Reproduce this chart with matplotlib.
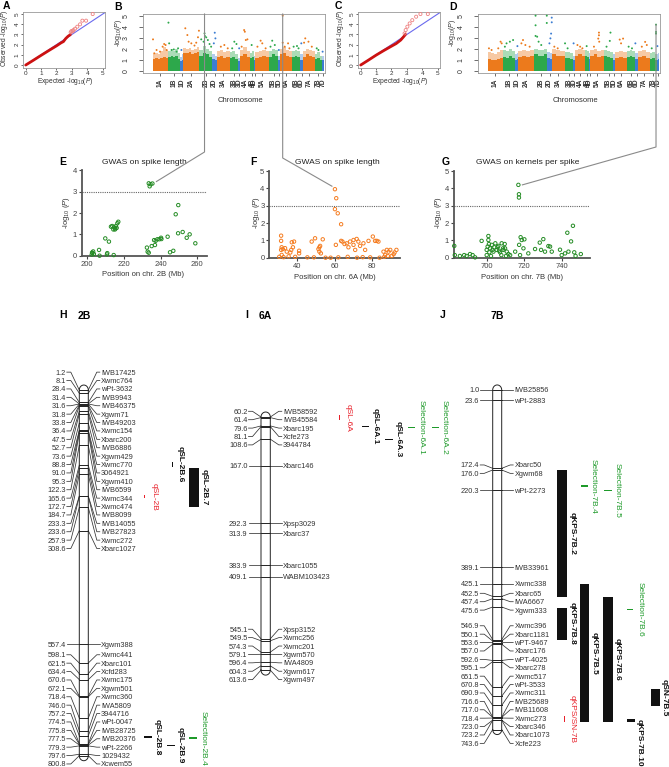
import numpy as np
import matplotlib
matplotlib.use('Agg')
import matplotlib.pyplot as plt
from matplotlib.patches import Rectangle

plt.rcParams['font.family'] = ['Liberation Sans', 'DejaVu Sans']
plt.rcParams['mathtext.fontset'] = 'custom'
plt.rcParams['mathtext.rm'] = 'Liberation Sans'
plt.rcParams['mathtext.it'] = 'Liberation Sans:italic'
plt.rcParams['mathtext.bf'] = 'Liberation Sans:bold'

# ====================== DATA ======================
chromosomes = ['1A', '1B', '1D', '2A', '2B', '2D', '3A', '3B', '3D', '4A', '4B', '4D',
               '5A', '5B', '5D', '6A', '6B', '6D', '7A', '7B', '7D']
chrom_sizes = [470, 360, 100, 480, 400, 140, 380, 260, 60, 300, 120, 40,
               420, 260, 80, 340, 260, 80, 360, 220, 60]

# dense bulk of markers (top of the solid band) and top of the sparser fringe above it
core_B = [[1.1, 1.2, 1.1, 1.2, 1.3, 1.2], [1.3, 1.4, 1.3, 1.4, 1.1], [0.9, 1.0],
          [1.6, 1.6, 1.7, 1.5, 1.6, 1.7], [1.4, 1.6, 1.5, 1.3], [1.1, 1.0],
          [1.3, 1.4, 1.2, 1.3], [1.2, 1.3, 1.1], [0.9], [1.4, 1.5, 1.3], [1.2, 1.3], [1.0],
          [1.2, 1.3, 1.4, 1.3], [1.3, 1.5, 1.4], [1.0], [1.5, 1.6, 1.4, 1.3], [1.3, 1.4, 1.3], [1.0],
          [1.3, 1.5, 1.4, 1.3], [1.1, 1.2, 1.0], [1.0]]
fringe_B = [[1.5, 1.6, 1.5, 1.8, 2.2, 1.9], [1.8, 2.0, 1.8, 2.0, 1.6], [1.3, 1.5],
            [2.1, 2.0, 2.1, 1.9, 2.0, 2.2], [1.9, 2.3, 2.0, 1.8], [1.5, 1.4],
            [1.8, 1.9, 1.7, 1.8], [1.7, 1.8, 1.5], [1.2], [1.9, 2.2, 1.8], [1.6, 1.8], [1.4],
            [1.7, 1.8, 1.9, 1.8], [1.8, 2.0, 1.9], [1.4], [2.0, 2.2, 1.9, 1.8], [1.8, 1.9, 1.8], [1.5],
            [1.8, 2.0, 1.9, 1.8], [1.5, 1.7, 1.4], [1.4]]
core_D = [[1.1, 1.0, 1.0, 1.1, 1.2], [1.3, 1.2, 1.4, 1.2], [1.0, 1.1],
          [1.3, 1.4, 1.3, 1.4], [1.5, 1.4, 1.4, 1.5], [1.2, 1.1],
          [1.5, 1.4, 1.4], [1.2, 1.2, 1.1], [1.0], [1.4, 1.5, 1.4], [1.4, 1.3], [1.1],
          [1.4, 1.5, 1.3, 1.4], [1.4, 1.3, 1.2], [1.0], [1.2, 1.3, 1.2], [1.3, 1.4, 1.3], [1.1],
          [1.3, 1.4, 1.2], [1.1, 1.2, 1.0], [1.0, 1.1]]
fringe_D = [[1.7, 1.6, 1.5, 1.7, 1.9], [1.9, 1.8, 2.0, 1.8], [1.5, 1.6],
            [1.8, 1.9, 1.8, 1.9], [2.0, 1.9, 1.9, 2.0], [1.7, 1.6],
            [2.0, 1.9, 1.8], [1.7, 1.7, 1.6], [1.4], [1.9, 2.0, 1.9], [1.9, 1.8], [1.6],
            [1.9, 2.0, 1.8, 1.9], [1.9, 1.8, 1.7], [1.5], [1.7, 1.8, 1.7], [1.8, 1.9, 1.8], [1.6],
            [1.8, 1.9, 1.7], [1.6, 1.7, 1.5], [1.5, 1.6]]

# markers standing out of the band: (chromosome, relative position, -log10 P)
hits_B = [('1A', 0.02, 2.86), ('1A', 0.1, 1.6), ('1A', 0.25, 1.9), ('1A', 0.47, 1.75), ('1A', 0.64, 2.2),
          ('1A', 0.74, 2.44), ('1A', 0.83, 2.35), ('1A', 0.9, 1.9),
          ('1B', 0.02, 4.37), ('1B', 0.08, 2.5), ('1B', 0.28, 1.9), ('1B', 0.47, 1.95), ('1B', 0.7, 1.75),
          ('1B', 0.83, 2.05), ('1D', 0.4, 1.9),
          ('2A', 0.12, 3.86), ('2A', 0.25, 3.25), ('2A', 0.33, 2.65), ('2A', 0.5, 2.5), ('2A', 0.7, 2.3),
          ('2A', 0.81, 2.56), ('2A', 0.92, 3.05), ('2A', 0.98, 3.64),
          ('2B', 0.15, 2.86), ('2B', 0.33, 2.65), ('2B', 0.4, 3.4), ('2B', 0.43, 3.16), ('2B', 0.53, 3.04),
          ('2B', 0.65, 2.8), ('2B', 0.78, 2.44), ('2B', 0.9, 2.2),
          ('2D', 0.5, 3.46), ('2D', 0.64, 2.95), ('2D', 0.3, 2.5),
          ('3A', 0.3, 2.2), ('3A', 0.58, 2.35), ('3A', 0.85, 2.05),
          ('3B', 0.55, 2.65), ('3B', 0.8, 2.44), ('3B', 0.3, 2.05), ('3D', 0.5, 2.05),
          ('4A', 0.15, 2.2), ('4A', 0.4, 3.7), ('4A', 0.47, 3.55), ('4A', 0.57, 2.8), ('4A', 0.73, 2.86),
          ('4B', 0.4, 2.35),
          ('5A', 0.15, 2.2), ('5A', 0.38, 2.74), ('5A', 0.5, 2.5), ('5A', 0.74, 2.05),
          ('5B', 0.15, 2.2), ('5B', 0.35, 2.74), ('5B', 0.65, 2.35), ('5D', 0.4, 1.9),
          ('6A', 0.2, 5.0), ('6A', 0.2, 2.56), ('6A', 0.38, 2.2), ('6A', 0.68, 2.5), ('6A', 0.8, 2.05),
          ('6B', 0.23, 2.2), ('6B', 0.62, 2.26), ('6B', 0.8, 2.05), ('6D', 0.4, 2.5),
          ('7A', 0.1, 2.56), ('7A', 0.2, 2.95), ('7A', 0.47, 2.65), ('7A', 0.75, 2.2),
          ('7B', 0.27, 2.05), ('7B', 0.5, 1.9), ('7D', 0.3, 1.75)]
hits_D = [('1A', 0.08, 2.05), ('1A', 0.25, 1.9), ('1A', 0.68, 2.05), ('1A', 0.83, 2.65), ('1A', 0.9, 2.5),
          ('1B', 0.14, 2.2), ('1B', 0.28, 2.5), ('1B', 0.56, 2.65), ('1B', 0.83, 2.8), ('1D', 0.7, 2.25),
          ('2A', 0.19, 2.5), ('2A', 0.29, 2.8), ('2A', 0.44, 2.35), ('2A', 0.71, 2.2),
          ('2B', 0.1, 5.0), ('2B', 0.1, 4.13), ('2B', 0.1, 3.17), ('2B', 0.22, 3.1), ('2B', 0.33, 2.65),
          ('2B', 0.53, 2.35), ('2B', 0.95, 5.0), ('2B', 0.95, 4.34),
          ('2D', 0.93, 4.82), ('2D', 0.93, 4.4), ('2D', 0.79, 3.38), ('2D', 0.64, 2.95), ('2D', 0.43, 2.5),
          ('3A', 0.18, 2.2), ('3A', 0.45, 2.05), ('3B', 0.05, 2.5), ('3B', 0.35, 2.05), ('3D', 0.2, 2.5),
          ('4A', 0.23, 2.35), ('4A', 0.5, 2.2), ('4A', 0.73, 2.05), ('4B', 0.4, 2.25),
          ('5A', 0.26, 2.2), ('5A', 0.62, 3.47), ('5A', 0.62, 3.23), ('5A', 0.57, 2.93), ('5A', 0.64, 2.65),
          ('5B', 0.73, 3.47), ('5B', 0.65, 2.72), ('5B', 0.27, 2.2),
          ('6A', 0.38, 2.84), ('6A', 0.68, 2.93), ('6A', 0.5, 2.5), ('6B', 0.23, 2.2), ('6B', 0.62, 2.05),
          ('6D', 0.05, 2.5), ('7A', 0.33, 2.2), ('7A', 0.61, 2.63), ('7A', 0.75, 2.35),
          ('7B', 0.86, 4.19), ('7B', 0.86, 3.53), ('7B', 0.86, 3.38), ('7B', 0.27, 2.05), ('7D', 0.2, 2.25)]

# QQ plots (expected vs observed -log10 P)
qqA_expected = [0.0, 0.5, 1.0, 1.5, 2.0, 2.3, 2.45, 2.6, 2.75, 2.9]
qqA_observed = [0.0, 0.47, 0.95, 1.42, 1.88, 2.18, 2.3, 2.6, 2.82, 2.98]
qqA_tail_expected = [2.92, 2.97, 3.05, 3.1, 3.2, 3.35, 3.53, 3.68, 3.92, 4.35]
qqA_tail_observed = [3.2, 3.33, 3.3, 3.43, 3.56, 3.76, 3.99, 4.35, 4.35, 5.0]
qqC_expected = [0.0, 0.5, 1.0, 1.5, 2.0, 2.3, 2.6, 2.8, 2.9]
qqC_observed = [0.0, 0.48, 0.97, 1.42, 1.85, 2.1, 2.45, 2.8, 3.0]
qqC_tail_expected = [2.85, 2.92, 3.03, 3.18, 3.35, 3.6, 3.88, 4.36]
qqC_tail_observed = [3.1, 3.43, 3.76, 4.08, 4.4, 4.74, 5.0, 5.0]

# Regional GWAS plots
E_pos = [233.5, 234.5, 234.0, 235.5, 202.4, 202.8, 203.2, 203.6, 202.6, 206.4, 206.7, 209.8, 210.7,
         210.9, 211.8, 214.4, 212.9, 213.6, 214.7, 215.1, 215.6, 216.4, 216.9, 216.0, 214.2, 215.3,
         232.5, 232.9, 233.5, 235.1, 236.4, 236.9, 237.3, 238.2, 239.3, 240.2, 240.4, 243.8, 245.1,
         246.9, 248.2, 249.6, 249.5, 252.0, 254.2, 255.8, 258.9]
E_val = [3.39, 3.35, 3.25, 3.38, 0.05, 0.12, 0.2, 0.08, 0.15, 0.27, 0.0, 0.81, 0.06,
         0.12, 0.66, 0.03, 1.36, 1.39, 1.33, 1.23, 1.39, 1.52, 1.59, 1.30, 1.23, 1.28,
         0.38, 0.19, 0.14, 0.45, 0.73, 0.5, 0.7, 0.77, 0.77, 0.84, 0.78, 0.89, 0.16,
         0.23, 1.94, 2.37, 1.05, 1.11, 0.84, 1.0, 0.58]
F_pos = [60.2, 60.9, 60.2, 61.7, 63.5,
         31.5, 31.5, 31.8, 31.5, 32.4, 33.6, 34.5, 31.8, 30.5, 32.8, 35.5, 36.9, 37.2, 38.4, 36.4, 37.8,
         41.1, 41.1, 47.8, 49.6, 53.7, 51.4, 51.9, 52.3, 52.7, 51.9, 45.5, 49.0, 55.2, 57.9, 39.0,
         60.7, 63.5, 64.2, 65.3, 66.5, 67.4, 68.3, 70.1, 71.8, 70.1, 72.7, 71.0, 73.6, 75.4, 76.3,
         78.1, 80.4, 81.6, 82.5, 83.4, 86.1, 87.9, 88.8, 89.7, 87.0, 88.4, 62.0, 67.0, 72.0, 75.0,
         79.0, 84.0, 86.5, 90.5, 92.0, 93.0, 91.5]
F_val = [3.95, 3.43, 2.8, 2.56, 1.93,
         1.27, 0.97, 0.6, 0.45, 0.5, 0.55, 0.35, 0.16, 0.05, 0.03, 0.08, 0.45, 0.89, 0.93, 0.3, 0.6,
         0.4, 0.25, 0.93, 1.12, 1.06, 0.5, 0.35, 0.68, 0.25, 0.6, 0.02, 0.02, 0.0, 0.0, 0.05,
         0.74, 0.97, 0.93, 0.79, 0.83, 0.6, 0.93, 1.02, 1.08, 0.74, 0.93, 0.45, 0.68, 0.83, 0.45,
         0.97, 1.22, 0.97, 0.97, 0.93, 0.35, 0.45, 0.35, 0.45, 0.16, 0.1, 0.02, 0.05, 0.0, 0.03,
         0.02, 0.0, 0.05, 0.1, 0.3, 0.45, 0.2]
G_pos = [716.9, 717.2, 717.2, 682.7, 683.0, 685.7, 688.0, 689.3, 691.1, 692.5, 693.8, 697.3, 700.0,
         700.5, 700.9, 700.9, 701.2, 701.8, 702.7, 703.6, 704.1, 705.3, 706.2, 707.1, 708.0, 708.9,
         709.8, 710.7, 711.6, 712.5, 715.2, 717.3, 718.1, 718.7, 720.1, 719.6, 717.8, 722.2, 725.8,
         728.3, 729.0, 730.2, 731.1, 732.9, 733.8, 734.7, 739.1, 740.0, 741.8, 743.0, 743.6, 745.0,
         746.0, 746.7, 747.4, 750.2, 700.0, 701.4, 702.3, 703.1, 704.6, 705.8, 706.6, 707.8, 708.7,
         709.6, 710.3]
G_val = [4.2, 3.66, 3.47, 0.68, 0.15, 0.1, 0.15, 0.1, 0.21, 0.15, 0.02, 0.97, 0.45,
         0.64, 1.25, 1.02, 0.79, 0.54, 0.74, 0.35, 0.6, 0.45, 0.68, 0.31, 0.83, 0.45,
         0.54, 0.35, 0.21, 0.15, 0.35, 0.74, 1.18, 1.02, 1.06, 0.54, 0.15, 0.25, 0.5,
         0.87, 0.45, 1.07, 0.35, 0.67, 0.64, 0.35, 0.46, 0.15, 0.25, 1.44, 0.35, 0.94,
         1.84, 0.31, 0.1, 0.21, 0.15, 0.31, 0.1, 0.45, 0.83, 0.6, 0.4, 0.15, 0.54,
         0.79, 0.1]

# Genetic maps (cM) and marker names
H_pos = [1.2, 8.1, 28.4, 31.4, 31.6, 31.8, 33.8, 36.4, 47.5, 52.7, 73.6, 88.8, 91.0, 95.3, 122.3, 165.6,
         172.7, 184.7, 233.3, 233.6, 257.9, 308.6, 557.4, 598.1, 621.5, 634.4, 670.6, 672.1, 718.4,
         746.0, 757.2, 774.5, 775.8, 777.5, 779.3, 797.6, 800.8]
H_names = ['IWB17425', 'Xwmc764', 'wPt-3632', 'IWB9943', 'IWB46375', 'Xgwm71', 'IWB49203', 'Xwmc154',
           'Xbarc200', 'IWB6886', 'Xgwm429', 'Xwmc770', '3064921', 'Xgwm410', 'IWB6599', 'Xwmc344',
           'Xwmc474', 'IWB8099', 'IWB14055', 'IWB27823', 'Xwmc272', 'Xbarc1027', 'Xgwm388', 'Xwmc441',
           'Xbarc101', 'Xcfd283', 'Xwmc175', 'Xgwm501', 'Xwmc360', 'IWA5809', '3944716', 'wPt-0047',
           'IWB28725', 'IWB20376', 'wPt-2266', '1029432', 'Xcwem55']
I_pos = [60.2, 61.4, 79.6, 81.1, 108.6, 167.0, 292.3, 313.9, 383.9, 409.1, 545.1, 549.5, 574.3, 579.1,
         596.4, 604.3, 613.6]
I_names = ['IWB58592', 'IWB45584', 'Xbarc195', 'Xcfe273', '3944784', 'Xbarc146', 'Xpsp3029', 'Xbarc37',
           'Xbarc1055', 'WABM103423', 'Xpsp3152', 'Xwmc256', 'Xwmc201', 'Xgwm570', 'IWA4809', 'Xgwm617',
           'Xgwm497']
J_pos = [1.0, 23.6, 172.4, 176.0, 220.3, 389.1, 425.1, 452.5, 457.4, 475.6, 546.9, 550.1, 553.6, 557.0,
         592.6, 595.1, 651.5, 670.8, 690.9, 716.6, 717.0, 718.4, 723.0, 723.2, 743.6]
J_names = ['IWB25856', 'wPt-2883', 'Xbarc50', 'Xgwm68', 'wPt-2273', 'IWB33961', 'Xwmc338', 'Xbarc65',
           'IWA6667', 'Xgwm333', 'Xwmc396', 'Xbarc1181', 'wPT-9467', 'Xbarc176', 'wPT-4025', 'Xbarc278',
           'Xwmc517', 'wPt-3533', 'Xwmc311', 'IWB25689', 'IWB11608', 'Xwmc273', 'Xbarc346', 'Xbarc1073',
           'Xcfe223']

# QTL / selection intervals (cM)
H_qtl_names = ['qSL-2B', 'qSL-2B.6', 'qSL-2B.7', 'qSL-2B.8', 'qSL-2B.9', 'Selection-2B.4']
H_qtl_start = [231, 158, 172, 760, 777.5, 762]
H_qtl_end = [238, 169, 257, 760, 777.5, 762]
H_qtl_kind = ['gwas', 'qtl', 'qtl', 'qtl', 'qtl', 'selection']
I_qtl_names = ['qSL-6A', 'qSL-6A.1', 'qSL-6A.3', 'Selection-6A.1', 'Selection-6A.2']
I_qtl_start = [56, 81.3, 108.9, 82.7, 83.5]
I_qtl_end = [67, 81.3, 108.9, 82.7, 83.5]
I_qtl_kind = ['gwas', 'qtl', 'qtl', 'selection', 'selection']
J_qtl_names = ['qKPS-7B.2', 'qKPS-7B.8', 'qKPS-7B.5', 'qKPS-7B.6', 'qSN-7B.5', 'qKPS-7B.10',
               'qKPS/SN-7B', 'Selection-7B.4', 'Selection-7B.5', 'Selection-7B.6']
J_qtl_start = [176, 477, 426, 453, 656, 721, 714, 211, 220, 481]
J_qtl_end = [453, 548, 726.5, 726.5, 692, 728, 726.5, 211, 220, 481]
J_qtl_kind = ['qtl', 'qtl', 'qtl', 'qtl', 'qtl', 'qtl', 'gwas', 'selection', 'selection', 'selection']

# ====================== STYLE / LAYOUT ======================
W, Hh = 669, 767
fig = plt.figure(figsize=(W / 100, Hh / 100), dpi=100)
genome_colors = {'A': '#EC7A1C', 'B': '#2DA84B', 'D': '#3C7DD2'}
kind_colors = {'gwas': '#E8202A', 'qtl': '#111111', 'selection': '#1E9A2A'}
GREEN = '#238B23'
ORANGE = '#F57C20'


def px_axes(x0, y0, x1, y1):
    return fig.add_axes([x0 / W, 1 - y1 / Hh, (x1 - x0) / W, (y1 - y0) / Hh])


def ftext(x, y, s, **kw):
    return fig.text(x / W, 1 - y / Hh, s, **kw)


LOGP = '-log$_{10}$($P$)'

# ---------- QQ plots ----------
def qq_panel(box, exp, obs, texp, tobs):
    ax = px_axes(*box)
    ax.plot([0, 5.3], [0, 5.3], color='#6A6AEE', lw=0.8, zorder=2)
    ax.plot(exp, obs, color='#CC1111', lw=2.0, solid_capstyle='round', zorder=3)
    ax.scatter(texp, tobs, s=5, facecolors='none', edgecolors='#EE8080', linewidths=0.6, zorder=4)
    ax.set_xlim(-0.195, 5.15)
    ax.set_ylim(-0.32, 5.23)
    ax.set_xticks(range(6))
    ax.set_yticks(range(6))
    ax.tick_params(labelsize=4.6, length=1.5, pad=0.8, width=0.5, colors='#333')
    for lab in ax.get_yticklabels():
        lab.set_rotation(90)
        lab.set_va('center')
    for sp in ax.spines.values():
        sp.set_color('#999')
        sp.set_linewidth(0.6)
    return ax


axA = qq_panel((22.7, 11.7, 105, 68.3), qqA_expected, qqA_observed, qqA_tail_expected, qqA_tail_observed)
axC = qq_panel((357.7, 11.7, 440, 68.3), qqC_expected, qqC_observed, qqC_tail_expected, qqC_tail_observed)
for x0 in (0, 335):
    ftext(65.5 + x0, 81.5, 'Expected ' + LOGP, fontsize=4.8, ha='center', va='center', color='#333')
    ftext(5 + x0, 38, 'Observed ' + LOGP, fontsize=4.8, ha='center', va='center', rotation=90, color='#333')

# ---------- Manhattan plots ----------
starts = np.concatenate([[0], np.cumsum(chrom_sizes)[:-1]])
centers = starts + np.array(chrom_sizes) / 2


def hit_x(ch, frac):
    i = chromosomes.index(ch)
    return starts[i] + frac * chrom_sizes[i]


def manhattan(box, core, fringe, hits):
    ax = px_axes(*box)
    for i, ch in enumerate(chromosomes):
        col = genome_colors[ch[1]]
        for heights, alpha in ((fringe[i], 0.4), (core[i], 1.0)):
            k = len(heights)
            w = chrom_sizes[i] / k
            xs = starts[i] + w * (np.arange(k) + 0.5)
            ax.bar(xs, heights, width=w, color=col, alpha=alpha, linewidth=0)
    hx = [hit_x(c, f) for c, f, v in hits]
    hy = [v for c, f, v in hits]
    hc = [genome_colors[c[1]] for c, f, v in hits]
    ax.scatter(hx, hy, s=2.0, c=hc, linewidths=0, zorder=3)
    ax.set_xlim(-285, sum(chrom_sizes) + 30)
    ax.set_ylim(-0.15, 5.15)
    ax.set_xticks(centers)
    ax.set_xticklabels(chromosomes, rotation=90, fontsize=4.8, fontweight='bold', color='#333')
    ax.set_yticks(range(6))
    ax.tick_params(axis='y', labelsize=5, length=3, pad=7, width=0.5, colors='#333')
    ax.tick_params(axis='x', length=2, pad=2, width=0.5, colors='#333')
    for lab in ax.get_yticklabels():
        lab.set_rotation(90)
        lab.set_va('center')
    for sp in ax.spines.values():
        sp.set_color('#999')
        sp.set_linewidth(0.6)
    return ax


axB = manhattan((143.3, 14, 325, 72.7), core_B, fringe_B, hits_B)
axD = manhattan((478.3, 14, 660, 72.7), core_D, fringe_D, hits_D)
for x0 in (0, 335):
    ftext(118 + x0, 33, LOGP, fontsize=5, ha='center', va='center', rotation=90, color='#333')
    ftext(240 + x0, 100.7, 'Chromosome', fontsize=5.5, ha='center', va='center', color='#333')

# ---------- Regional GWAS ----------
def gwas_panel(box, pos, val, color, xlim, ylim, xticks):
    ax = px_axes(*box)
    ax.axhline(3, color='#666', lw=0.8, ls=(0, (1, 1)), zorder=1)
    ax.scatter(pos, val, s=6, facecolors='none', edgecolors=color, linewidths=0.7,
               clip_on=False, zorder=3)
    ax.set_xlim(*xlim)
    ax.set_ylim(*ylim)
    ax.set_xticks(xticks)
    ax.set_yticks(range(int(ylim[1]) + 1))
    ax.spines['top'].set_visible(False)
    ax.spines['right'].set_visible(False)
    for s in ('left', 'bottom'):
        ax.spines[s].set_color('#555')
        ax.spines[s].set_linewidth(1.3)
    ax.tick_params(labelsize=5.5, length=2, pad=1.5, width=0.8, colors='#444')
    return ax


axE = gwas_panel((81.7, 170.3, 206.7, 255.7), E_pos, E_val, GREEN, (196.95, 265.1), (0, 4),
                 [200, 220, 240, 260])
axF = gwas_panel((269.3, 171, 400, 257.7), F_pos, F_val, ORANGE, (25.2, 94.9), (0, 5),
                 [40, 60, 80])
axG = gwas_panel((453.5, 171, 590, 257.7), G_pos, G_val, GREEN, (682.3, 755.1), (0, 5),
                 [700, 720, 740])
ftext(143, 274.5, 'Position on chr. 2B (Mb)', fontsize=5.5, ha='center', va='center', color='#333')
ftext(334.5, 277, 'Position on chr. 6A (Mb)', fontsize=5.5, ha='center', va='center', color='#333')
ftext(522, 277, 'Position on chr. 7B (Mb)', fontsize=5.5, ha='center', va='center', color='#333')
for x in (66, 256, 438):
    ftext(x, 213, '-log$_{10}$ ($P$)', fontsize=5.5, ha='center', va='center', rotation=90, color='#333')
ftext(144, 162, 'GWAS on spike length', fontsize=6, ha='center', va='center', color='#222')
ftext(337, 162, 'GWAS on spike length', fontsize=6, ha='center', va='center', color='#222')
ftext(528, 162, 'GWAS on kernels per spike', fontsize=6, ha='center', va='center', color='#222')

# panel letters
for s, x, y in [('A', 6, 6), ('B', 118, 6.5), ('C', 338, 6), ('D', 453, 6.5),
                ('E', 63, 162), ('F', 253, 162), ('G', 446, 162),
                ('H', 63, 315), ('I', 247, 315), ('J', 443, 315)]:
    ftext(x, y, s, fontsize=7.5, fontweight='bold', ha='center', va='center')
for s, x in [('2B', 84), ('6A', 265), ('7B', 497)]:
    ftext(x, 316, s, fontsize=7.5, fontweight='bold', ha='center', va='center')

# ---------- Genetic maps ----------
PX_PER_CM = 0.4573
Y0_PX = 389.5


def cm(px):
    return (px - Y0_PX) / PX_PER_CM


axM = px_axes(0, 300, W, Hh)
axM.set_xlim(0, W)
axM.set_ylim(cm(Hh), cm(300))
axM.axis('off')


def spread(vals, gap):
    clusters = [[i] for i in range(len(vals))]

    def place(cl):
        mid = (vals[cl[0]] + vals[cl[-1]]) / 2
        n = len(cl)
        return [mid + (k - (n - 1) / 2) * gap for k in range(n)]

    changed = True
    while changed:
        changed = False
        pos = [place(c) for c in clusters]
        for j in range(len(clusters) - 1):
            if pos[j + 1][0] - pos[j][-1] < gap - 1e-9:
                clusters[j] = clusters[j] + clusters[j + 1]
                del clusters[j + 1]
                changed = True
                break
    out = []
    for c in clusters:
        out += place(c)
    return out


def draw_map(ax, positions, names, xl, xr):
    ink = '#333333'
    gap = 8.4 / PX_PER_CM
    labs = spread(positions, gap)
    xc = (xl + xr) / 2
    rx = (xr - xl) / 2
    ry = 5.0 / PX_PER_CM
    t = np.linspace(0, np.pi, 40)
    top, bot = positions[0], positions[-1]
    ox = np.concatenate([[xl], xc - rx * np.cos(t), [xr, xr], xc + rx * np.cos(t), [xl]])
    oy = np.concatenate([[bot], top - ry * np.sin(t), [top, bot], bot + ry * np.sin(t), [bot]])
    ax.fill(ox, oy, color='white', zorder=1)
    ax.plot(ox, oy, color='#222', lw=0.7, zorder=3)
    for p, L, nm in zip(positions, labs, names):
        ax.plot([xl, xr], [p, p], color='#222', lw=0.7, zorder=2)
        ax.plot([xl - 12.5, xl - 8.5, xl], [L, L, p], color=ink, lw=0.55)
        ax.plot([xr, xr + 8.5, xr + 11.5], [p, L, L], color=ink, lw=0.55)
        ax.text(xl - 13.5, L, f'{p:.1f}', ha='right', va='center_baseline', fontsize=5.3, color=ink)
        ax.text(xr + 12.8, L, nm, ha='left', va='center_baseline', fontsize=5.3, color=ink)


def draw_qtls(ax, names, starts_, ends_, kinds, layout):
    for nm, s, e, k, (x, w, lx, dy) in zip(names, starts_, ends_, kinds, layout):
        col = kind_colors[k]
        hmin = 1.1 / PX_PER_CM
        h = max(e - s, hmin)
        y = (s + e) / 2 - h / 2
        ax.add_patch(Rectangle((x, y), w, h, facecolor=col, edgecolor='none', zorder=4))
        ax.text(lx, (s + e) / 2 + dy / PX_PER_CM, nm, rotation=270, ha='center', va='center',
                fontsize=6, color=col, fontweight='bold' if k == 'qtl' else 'normal')


draw_map(axM, H_pos, H_names, 79.3, 88.3)
draw_map(axM, I_pos, I_names, 261.0, 270.3)
draw_map(axM, J_pos, J_names, 492.7, 501.7)

H_layout = [(143.5, 1.3, 154.5, 0), (171.8, 1.0, 180.5, 0), (189.3, 10, 204, 0),
            (144, 7.7, 157, 0), (166.7, 8.3, 180, 0), (189, 8, 203, 0)]
I_layout = [(338.8, 1.5, 348.5, 0), (361.7, 7.6, 375, 0), (385, 8.3, 398, 0),
            (408, 7, 421, 0), (431.7, 7.6, 444, 0)]
J_layout = [(557, 9.7, 571.7, 0), (557, 9.7, 571.7, 0), (580, 9.3, 594, 0), (602.7, 10, 617, 0),
            (651, 9, 664, 0), (626.7, 8.3, 639.5, 22), (563.5, 1.3, 571.7, 0),
            (581, 7, 593, 0), (604.3, 7.4, 617, 0), (627, 6.3, 640, 0)]
draw_qtls(axM, H_qtl_names, H_qtl_start, H_qtl_end, H_qtl_kind, H_layout)
draw_qtls(axM, I_qtl_names, I_qtl_start, I_qtl_end, I_qtl_kind, I_layout)
draw_qtls(axM, J_qtl_names, J_qtl_start, J_qtl_end, J_qtl_kind, J_layout)

# ---------- connector lines between panels ----------
axO = fig.add_axes([0, 0, 1, 1])
axO.set_xlim(0, W)
axO.set_ylim(Hh, 0)
axO.axis('off')
axO.set_zorder(10)
axO.patch.set_alpha(0)


def to_px(ax, x, y):
    d = ax.transData.transform((x, y))
    return axO.transData.inverted().transform(d)


def connector(ax_from, xdata, ytop, elbow_y, ax_to, xt, yt, off):
    x0, y0 = to_px(ax_from, xdata, ytop)
    x1, y1 = to_px(ax_to, xt, yt)
    axO.plot([x0, x0, x1 + off[0]], [y0, elbow_y, y1 + off[1]], color='#8a8a8a', lw=0.8)


connector(axB, hit_x('2B', 0.4), 5.15, 152, axE, 235.5, 3.38, (4, -2))
connector(axB, hit_x('6A', 0.2), 5.15, 158, axF, 60.2, 3.95, (-3, -3))
connector(axD, hit_x('7B', 0.86), 4.19, 147, axG, 716.9, 4.2, (4, 0))

fig.savefig('out.png', dpi=100)
